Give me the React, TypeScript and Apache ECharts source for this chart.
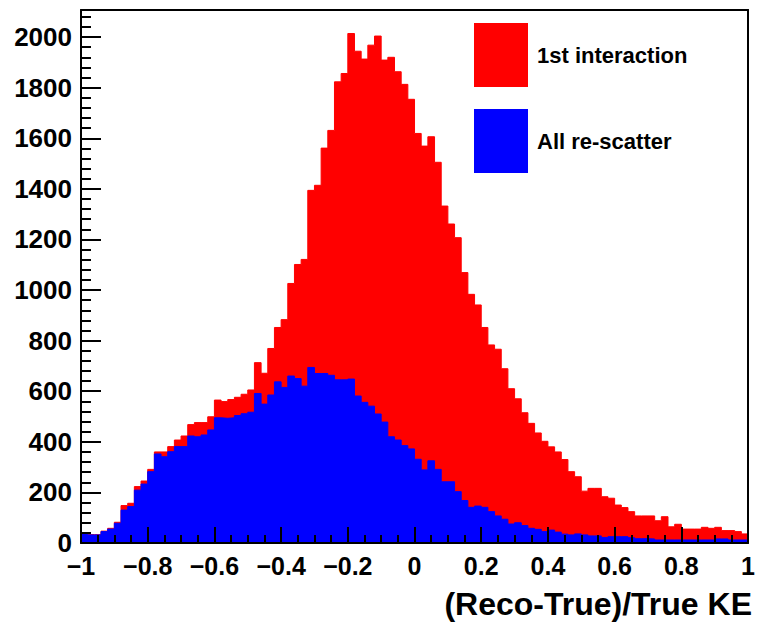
import React, { useEffect, useRef } from "react";
import * as echarts from "echarts";

// Histogram binning: 100 bins of width 0.02 on [-1, 1]
const BIN_START = -1;
const BIN_WIDTH = 0.02;

// Bin contents, "1st interaction" (red)
const firstInteraction = [
  40, 33, 33, 47, 58, 82, 148, 157, 223, 245,
  291, 360, 360, 381, 407, 423, 468, 476, 476, 499,
  565, 559, 567, 576, 588, 605, 713, 671, 769, 852,
  883, 1026, 1101, 1121, 1394, 1414, 1561, 1631, 1823, 1856,
  2014, 1944, 1913, 1968, 2004, 1909, 1920, 1863, 1813, 1754,
  1619, 1569, 1606, 1505, 1332, 1261, 1207, 1069, 983, 941,
  852, 783, 766, 689, 610, 570, 515, 473, 435, 402,
  380, 360, 330, 282, 262, 205, 216, 216, 183, 177,
  150, 140, 124, 107, 107, 107, 88, 104, 64, 74,
  55, 55, 55, 62, 58, 62, 49, 49, 45, 36,
];

// Bin contents, "All re-scatter" (blue)
const allRescatter = [
  38, 32, 32, 45, 55, 78, 130, 144, 209, 233,
  282, 352, 341, 361, 381, 381, 423, 420, 427, 447,
  495, 493, 495, 504, 511, 517, 591, 549, 585, 637,
  615, 660, 650, 620, 694, 670, 670, 663, 645, 645,
  648, 581, 556, 541, 510, 478, 420, 407, 385, 372,
  331, 289, 325, 291, 242, 242, 203, 168, 141, 146,
  141, 124, 107, 94, 75, 80, 69, 58, 54, 45,
  51, 43, 35, 32, 36, 32, 28, 28, 22, 25,
  25, 25, 21, 17, 17, 16, 12, 12, 12, 12,
  12, 12, 12, 12, 12, 16, 16, 12, 12, 12,
];

const seriesNames = ["1st interaction", "All re-scatter"];
const seriesColors = ["#ff0000", "#0000ff"];

// Axis ranges and tick steps
const X_MIN = -1;
const X_MAX = 1;
const X_TICK = 0.2;
const Y_MIN = 0;
const Y_MAX = 2107;
const Y_TICK = 200;
const X_TITLE = "(Reco-True)/True KE";

const FONT = '"Liberation Sans", Arial, Helvetica, sans-serif';

// Step outline points: left edge of every bin plus the final right edge
function toSteps(vals: number[]): number[][] {
  const pts = vals.map((v, i) => [BIN_START + i * BIN_WIDTH, v]);
  pts.push([BIN_START + vals.length * BIN_WIDTH, vals[vals.length - 1]]);
  return pts;
}

function fmtX(v: number): string {
  const r = Math.round(v * 10) / 10;
  if (r === 0) return "0";
  return r < 0 ? "\u2212" + String(Math.abs(r)) : String(r);
}

export default function App() {
  const ref = useRef<HTMLDivElement>(null);

  useEffect(() => {
    if (!ref.current) return;
    const chart = echarts.init(ref.current, undefined, { renderer: "svg" });

    const histSeries = [firstInteraction, allRescatter].map((vals, k) => ({
      type: "line",
      name: seriesNames[k],
      step: "end",
      data: toSteps(vals),
      symbol: "none",
      showSymbol: false,
      silent: true,
      xAxisIndex: 0,
      yAxisIndex: 0,
      z: 2 + k,
      lineStyle: { color: seriesColors[k], width: 1 },
      itemStyle: { color: seriesColors[k] },
      areaStyle: { color: seriesColors[k], opacity: 1, origin: "start" },
    }));

    chart.setOption({
      animation: false,
      backgroundColor: "#ffffff",
      grid: { left: 81, top: 10, width: 672, height: 533, containLabel: false },
      legend: {
        orient: "vertical",
        left: 469,
        top: 18,
        itemWidth: 54,
        itemHeight: 64,
        itemGap: 22,
        selectedMode: false,
        icon: "rect",
        data: seriesNames.map((n, k) => ({
          name: n,
          icon: "rect",
          itemStyle: { color: seriesColors[k] },
        })),
        textStyle: {
          fontFamily: FONT,
          fontWeight: "bold",
          fontSize: 22,
          color: "#000",
          padding: [0, 0, 0, 4],
        },
      },
      xAxis: [
        {
          type: "value",
          min: X_MIN,
          max: X_MAX,
          interval: X_TICK,
          z: 10,
          axisLine: { show: true, onZero: false, lineStyle: { color: "#000", width: 2 } },
          axisTick: { show: true, inside: true, length: 16, lineStyle: { color: "#000", width: 2 } },
          minorTick: { show: true, splitNumber: 4, length: 8, lineStyle: { color: "#000", width: 2 } },
          splitLine: { show: false },
          axisLabel: {
            show: true,
            margin: 10,
            formatter: fmtX,
            fontFamily: FONT,
            fontWeight: "bold",
            fontSize: 25,
            color: "#000",
          },
        },
        {
          type: "value",
          position: "top",
          min: X_MIN,
          max: X_MAX,
          z: 10,
          axisLine: { show: true, onZero: false, lineStyle: { color: "#000", width: 2 } },
          axisTick: { show: false },
          axisLabel: { show: false },
          splitLine: { show: false },
        },
      ],
      yAxis: [
        {
          type: "value",
          min: Y_MIN,
          max: Y_MAX,
          interval: Y_TICK,
          z: 10,
          axisLine: { show: true, onZero: false, lineStyle: { color: "#000", width: 2 } },
          axisTick: { show: true, inside: true, length: 20, lineStyle: { color: "#000", width: 2 } },
          minorTick: { show: true, splitNumber: 5, length: 10, lineStyle: { color: "#000", width: 2 } },
          splitLine: { show: false },
          axisLabel: {
            show: true,
            margin: 9,
            showMaxLabel: false,
            formatter: (v: number) => (v % Y_TICK === 0 ? String(v) : ""),
            fontFamily: FONT,
            fontWeight: "bold",
            fontSize: 26,
            color: "#000",
          },
        },
        {
          type: "value",
          position: "right",
          min: Y_MIN,
          max: Y_MAX,
          z: 10,
          axisLine: { show: true, onZero: false, lineStyle: { color: "#000", width: 2 } },
          axisTick: { show: false },
          axisLabel: { show: false },
          splitLine: { show: false },
        },
      ],
      graphic: [
        {
          type: "text",
          x: 752,
          y: 604,
          z: 20,
          style: {
            text: X_TITLE,
            align: "right",
            verticalAlign: "middle",
            textAlign: "right",
            textVerticalAlign: "middle",
            fontFamily: FONT,
            fontWeight: "bold",
            fontSize: 32,
            fill: "#000",
          },
        },
      ],
      series: histSeries,
    });

    return () => chart.dispose();
  }, []);

  return (
    <div
      ref={ref}
      style={{ position: "fixed", left: 0, top: 0, width: 758, height: 623 }}
    />
  );
}
